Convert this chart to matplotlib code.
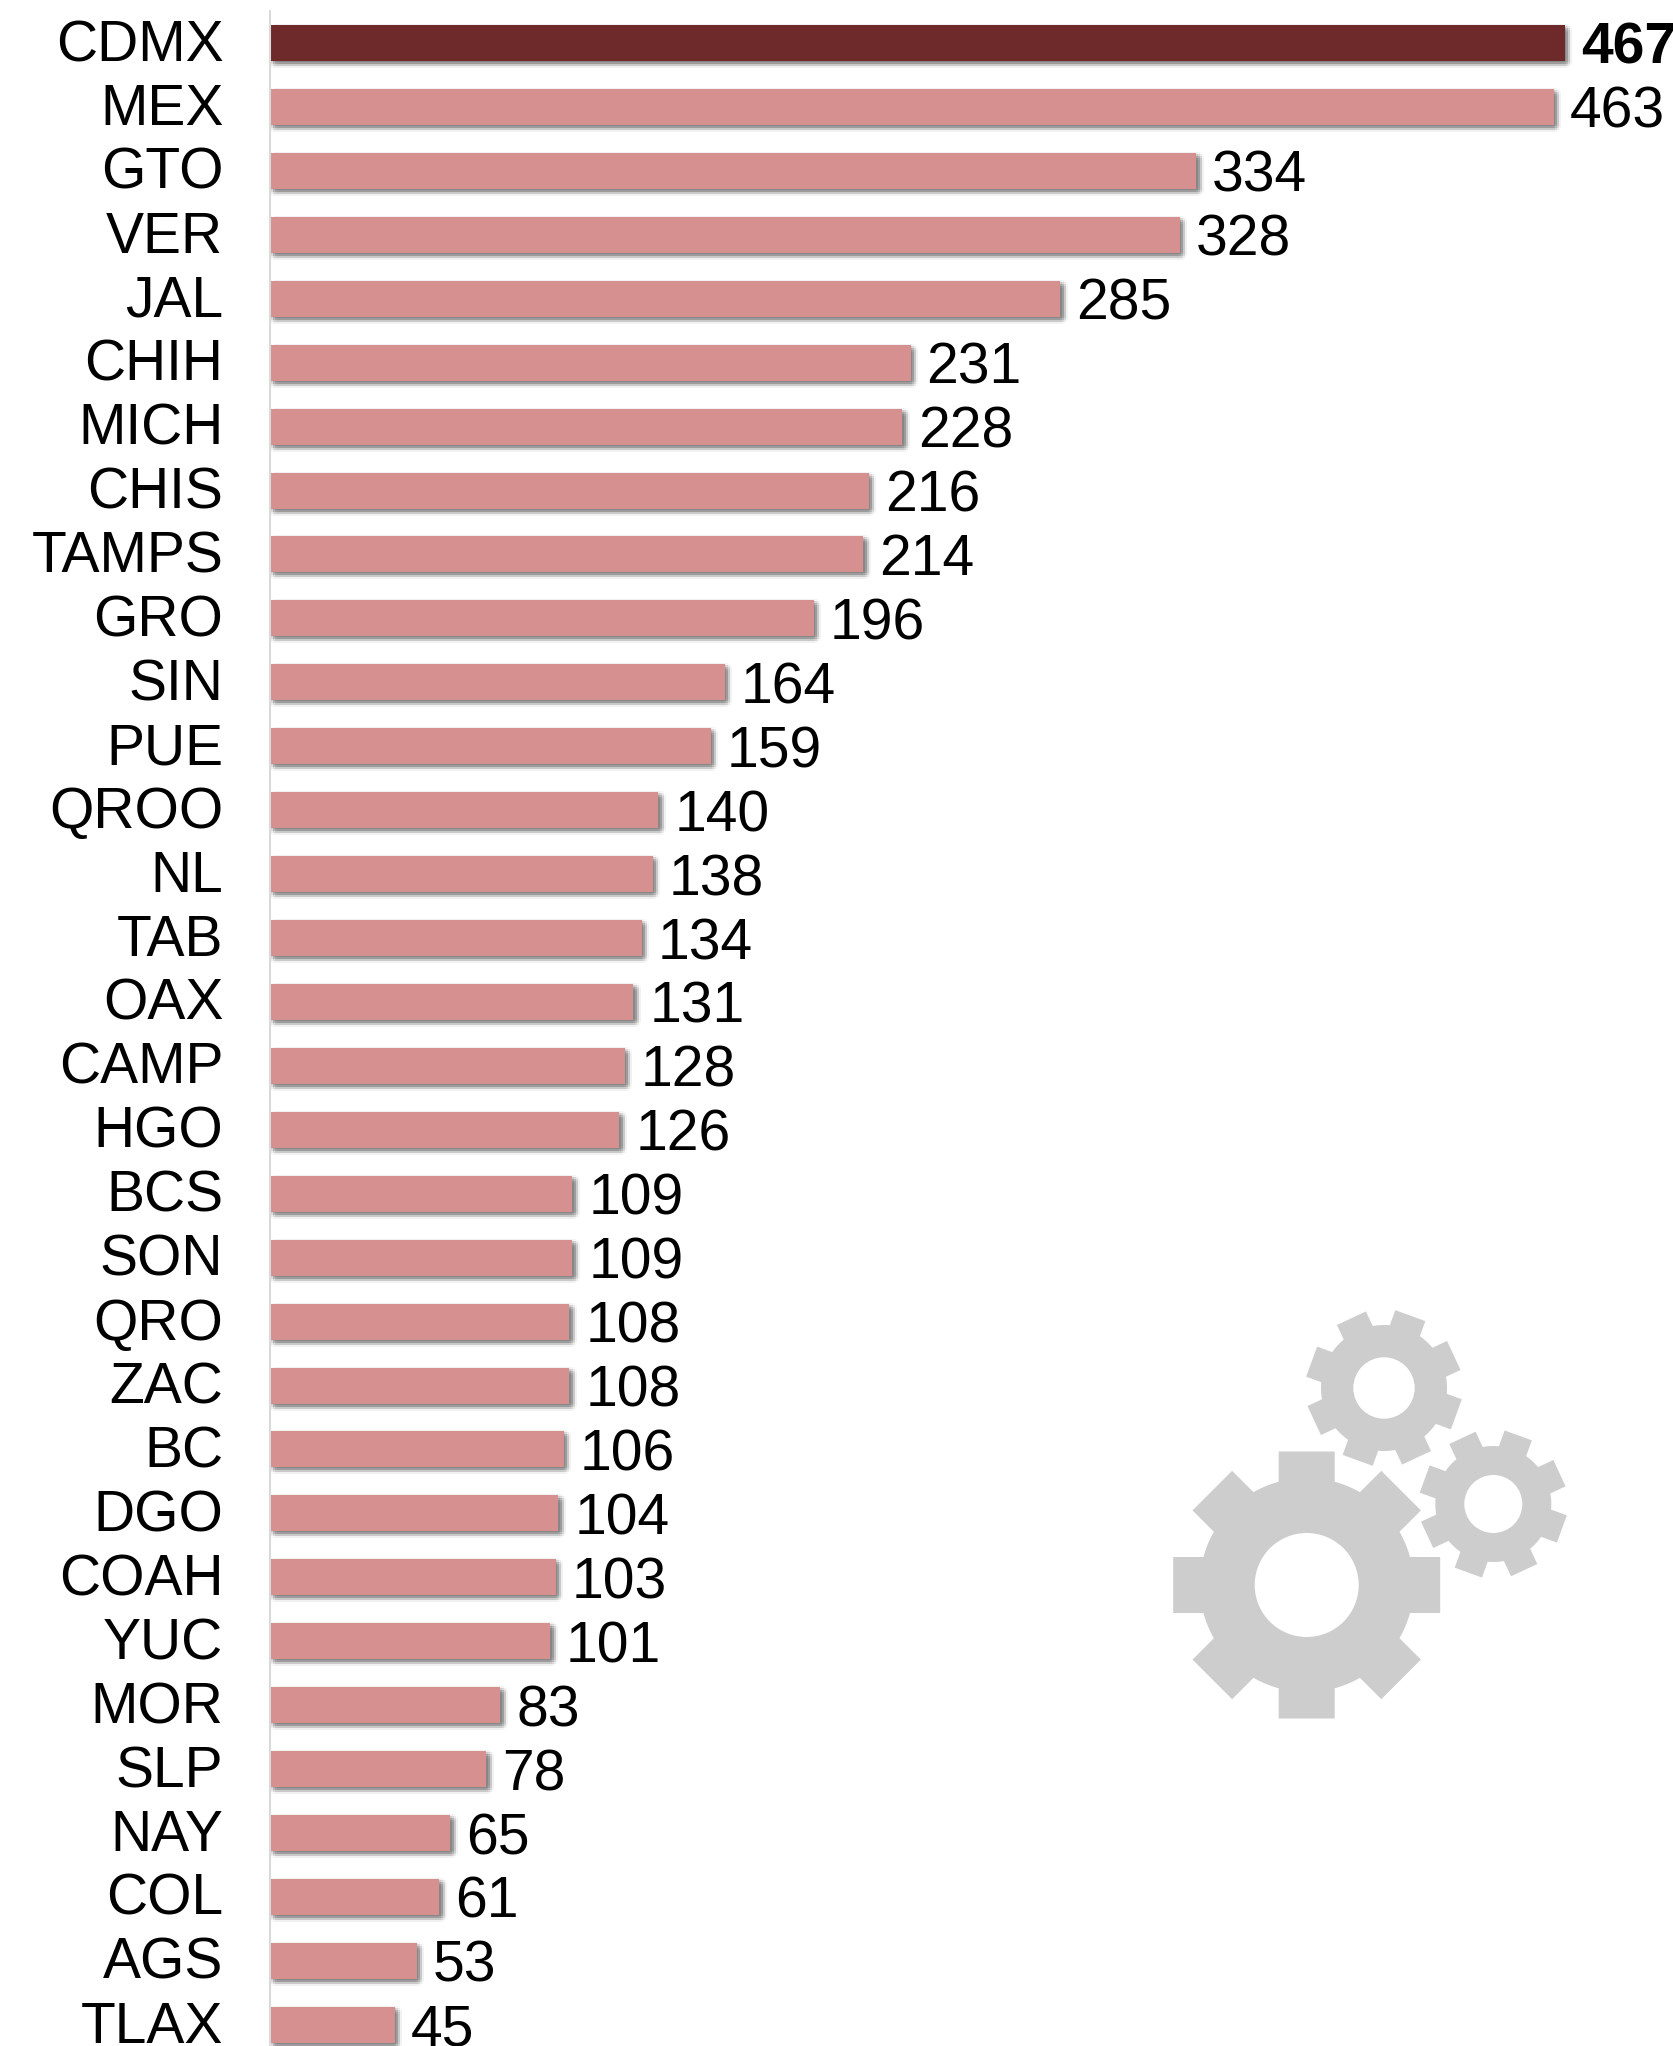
import numpy as np
import matplotlib
matplotlib.use("Agg")
import matplotlib.pyplot as plt
import matplotlib.patheffects as pe
from matplotlib.patches import Polygon, Circle
from matplotlib.transforms import Affine2D, ScaledTranslation

plt.rcParams['font.family'] = ['Liberation Sans', 'DejaVu Sans']

states = ["CDMX", "MEX", "GTO", "VER", "JAL", "CHIH", "MICH", "CHIS", "TAMPS", "GRO", "SIN",
          "PUE", "QROO", "NL", "TAB", "OAX", "CAMP", "HGO", "BCS", "SON", "QRO", "ZAC", "BC",
          "DGO", "COAH", "YUC", "MOR", "SLP", "NAY", "COL", "AGS", "TLAX"]
values = [467, 463, 334, 328, 285, 231, 228, 216, 214, 196, 164, 159, 140, 138, 134, 131,
          128, 126, 109, 109, 108, 108, 106, 104, 103, 101, 83, 78, 65, 61, 53, 45]

W, H, DPI = 1674, 2046, 100
DARK, LIGHT, GREY = "#6E2A2A", "#D69090", "#CDCDCD"
AX_LEFT = 270
PX_PER_UNIT = 2.773
FIRST_C, STEP, BAR_H = 43.0, 63.93, 36.0
FS = 41

fig = plt.figure(figsize=(W / DPI, H / DPI), dpi=DPI, facecolor="white")
ax = fig.add_axes([AX_LEFT / W, 0, 1 - AX_LEFT / W, 1])
ax.set_xlim(0, (W - AX_LEFT) / PX_PER_UNIT)
ax.set_ylim((H - FIRST_C) / STEP, -FIRST_C / STEP)

# soft drop shadow: faint offset copies; coarse steps keep each alpha above 8-bit rounding
shadow = []
for dx in np.arange(-4, 5, 2.0):
    for dy in np.arange(-4, 5, 2.0):
        r2 = dx ** 2 + dy ** 2
        if r2 > 21:
            continue
        w = np.exp(-r2 / (2 * 2.5 ** 2))
        shadow.append(pe.SimplePatchShadow(offset=((3.5 + dx) * 0.72, -(3 + dy) * 0.72),
                                           shadow_rgbFace="#333333", alpha=0.1 * w))
ypos = np.arange(len(states))
colors = [DARK] + [LIGHT] * (len(states) - 1)
bars = ax.barh(ypos, values, height=BAR_H / STEP, color=colors, linewidth=0)
for b in bars:
    b.set_path_effects(shadow + [pe.Normal()])

ax.set_yticks(ypos)
ax.set_yticklabels(states, fontsize=FS, color="black")
ax.tick_params(axis="y", length=0, pad=33.6)
ax.tick_params(axis="x", bottom=False, labelbottom=False)
off = ScaledTranslation(0, -18 / DPI, fig.dpi_scale_trans)
for lab in ax.get_yticklabels():
    lab.set_verticalalignment("baseline")
    lab.set_transform(lab.get_transform() + off)

for i, v in enumerate(values):
    ax.annotate(str(v), (v, i), xytext=(11.5, -21 * 0.72), textcoords="offset points",
                ha="left", va="baseline", fontsize=FS, color="black",
                fontweight="bold" if i == 0 else "normal", annotation_clip=False)

for s in ("top", "right", "bottom"):
    ax.spines[s].set_visible(False)
ax.spines["left"].set_color("#D9D9D9")
ax.spines["left"].set_linewidth(1.5)
ax.spines["left"].set_bounds((11 - FIRST_C) / STEP, (H - FIRST_C) / STEP)

# decorative gears, in figure pixels with y measured from the top
px = Affine2D().scale(1, -1).translate(0, H)


def gear(cx, cy, r_out, r_root, half_w, r_hole, start, teeth=8):
    pts = []
    c = np.array([cx, cy])
    for k in range(teeth):
        a = np.radians(start + k * 360 / teeth)
        u = np.array([np.cos(a), -np.sin(a)])
        n = np.array([np.sin(a), np.cos(a)])
        base = np.sqrt(r_root ** 2 - half_w ** 2)
        pts += [c + u * base + n * half_w, c + u * r_out + n * half_w,
                c + u * r_out - n * half_w, c + u * base - n * half_w]
        a0 = a + np.arcsin(half_w / r_root)
        a1 = a + np.radians(360 / teeth) - np.arcsin(half_w / r_root)
        for t in np.linspace(a0, a1, 8)[1:-1]:
            pts.append(c + r_root * np.array([np.cos(t), -np.sin(t)]))
    fig.add_artist(Polygon(pts, closed=True, facecolor=GREY, edgecolor="none", transform=px))
    fig.add_artist(Circle((cx, cy), r_hole, facecolor="white", edgecolor="none", transform=px))


gear(1306.7, 1585, 133.5, 107, 28, 52, 0)
gear(1384, 1388, 77, 63, 16, 30.7, 25)
gear(1493.3, 1504, 73, 58, 14.5, 29, 25)

fig.savefig("out.png", dpi=DPI, facecolor="white")
